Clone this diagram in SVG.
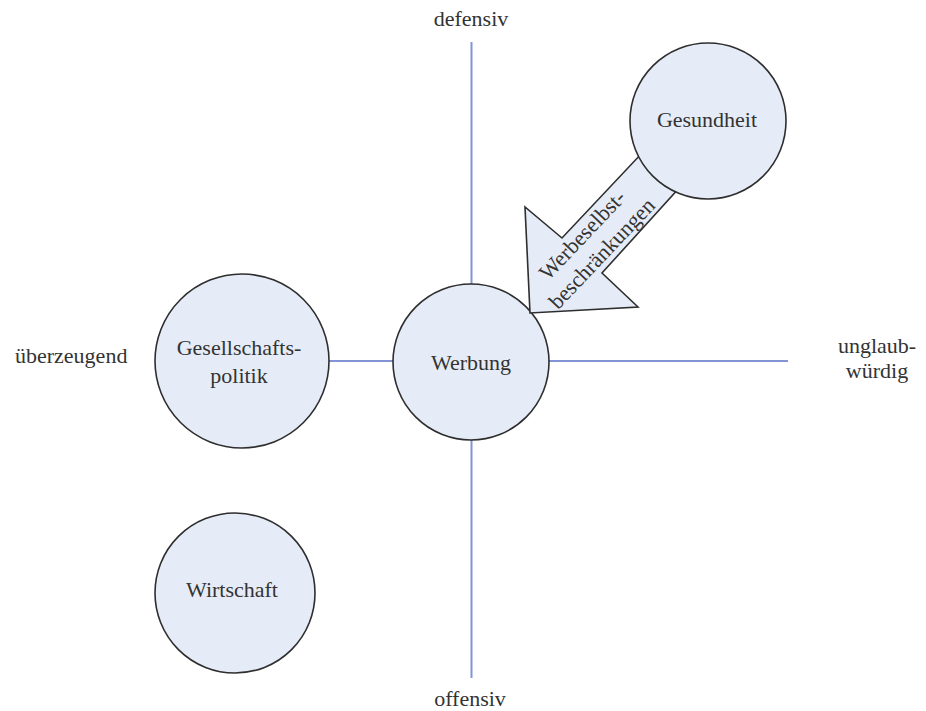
<svg xmlns="http://www.w3.org/2000/svg" width="926" height="711" viewBox="0 0 926 711">
<style>
.axis{stroke:#8393d6;stroke-width:2;fill:none}
.node{fill:#e6ecf7;stroke:#2e2e2e;stroke-width:1.6}
.t{font-family:"Liberation Serif","Times New Roman",serif;font-size:22px;fill:#333;text-anchor:middle}
.lbl{font-family:"Liberation Serif","Times New Roman",serif;font-size:22px;fill:#333}
</style>
<rect width="926" height="711" fill="#fff"/>
<g id="connectors">
<line class="axis" x1="471.5" y1="42" x2="471.5" y2="678"/>
<line class="axis" x1="320" y1="361" x2="788" y2="361"/>
</g>
<g id="labels">
<text class="lbl" x="471" y="26" text-anchor="middle">defensiv</text>
<text class="lbl" x="470" y="706" text-anchor="middle">offensiv</text>
<text class="lbl" x="15" y="363">überzeugend</text>
<text class="lbl" x="877" y="353" text-anchor="middle">unglaub-</text>
<text class="lbl" x="877" y="378" text-anchor="middle">würdig</text>
</g>
<g id="werbung">
<circle class="node" cx="471" cy="362" r="78"/>
<text class="t" x="471" y="370">Werbung</text>
</g>
<g id="werbeselbstbeschraenkungen">
<polygon class="node" points="642,153 680,187 602,273 638,307 530,313 525,207 562,238"/>
<g transform="translate(593,245) rotate(-46.5)">
<text class="t" x="0" y="-7.5">Werbeselbst-</text>
<text class="t" x="0" y="19.5">beschränkungen</text>
</g>
</g>
<g id="gesundheit">
<circle class="node" cx="708" cy="121" r="78"/>
<text class="t" x="707" y="127">Gesundheit</text>
</g>
<g id="gesellschaftspolitik">
<circle class="node" cx="242" cy="361" r="87"/>
<text class="t" x="239" y="355">Gesellschafts-</text>
<text class="t" x="239" y="383">politik</text>
</g>
<g id="wirtschaft">
<circle class="node" cx="235" cy="593" r="80"/>
<text class="t" x="232" y="597">Wirtschaft</text>
</g>
</svg>
